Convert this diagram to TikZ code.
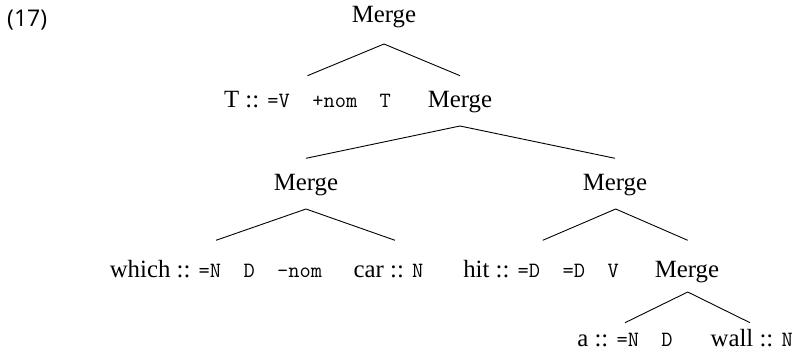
\documentclass[tikz,border=0pt]{standalone}
\usepackage{fontspec}
\setmainfont{Liberation Serif}
\newfontfamily\labelfont{Open Sans}
\begin{document}
\begin{tikzpicture}[x=1pt,y=-1pt,
  lab/.style={anchor=base,inner sep=0pt,outer sep=0pt,font=\fontsize{24.8}{29}\selectfont},
  num/.style={anchor=base west,inner sep=0pt,font=\labelfont\fontsize{23}{26}\selectfont},
  branch/.style={line width=0.9pt}]
\useasboundingbox (0,0) rectangle (794,361);
\newcommand{\ft}[1]{{\ttfamily\fontsize{21.8}{26}\selectfont #1}}
\node[num] (ex) at (7,27) {(17)};
\node[lab] (m0) at (384,23) {Merge};
\node[lab] (t) at (307.5,107) {T :: \ft{=V~~+nom~~T}};
\node[lab] (m1) at (460,107) {Merge};
\node[lab] (m2) at (306,190) {Merge};
\node[lab] (m3) at (615,190) {Merge};
\node[lab] (w) at (216,277) {which :: \ft{=N~~D~~-nom}};
\node[lab] (c) at (388.5,277) {car :: \ft{N}};
\node[lab] (h) at (541,277) {hit :: \ft{=D~~=D~~V}};
\node[lab] (m4) at (687,277) {Merge};
\node[lab] (a) at (625,346) {a :: \ft{=N~~D}};
\node[lab] (wl) at (751.7,346) {wall :: \ft{N}};
\draw[branch] ([yshift=31.3pt]t.base) -- ([yshift=-21pt]m0.base) -- ([yshift=31.3pt]m1.base);
\draw[branch] ([yshift=31.7pt]m2.base) -- ([yshift=-19pt]m1.base) -- ([yshift=31.7pt]m3.base);
\draw[branch] ([yshift=36.7pt]w.base) -- ([yshift=-19pt]m2.base) -- ([xshift=6.5pt,yshift=36.7pt]c.base);
\draw[branch] ([xshift=1.7pt,yshift=36.7pt]h.base) -- ([xshift=0.7pt,yshift=-19pt]m3.base) -- ([xshift=0.7pt,yshift=36.7pt]m4.base);
\draw[branch] ([yshift=23.3pt]a.base) -- ([xshift=0.7pt,yshift=-15pt]m4.base) -- ([xshift=-1.7pt,yshift=23.3pt]wl.base);
\end{tikzpicture}
\end{document}
